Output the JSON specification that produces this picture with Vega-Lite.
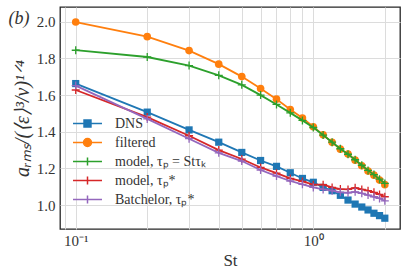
{
  "$schema": "https://vega.github.io/schema/vega-lite/v6.json",
  "width": 340,
  "height": 222,
  "autosize": {"type": "none"},
  "padding": {"left": 60, "top": 7, "right": 7, "bottom": 46},
  "background": "white",
  "config": {
    "font": "Liberation Serif",
    "style": {"guide-label": {"font": "Liberation Serif"}, "guide-title": {"font": "Liberation Serif"}},
    "view": {"stroke": "#262626", "strokeWidth": 1.3},
    "axis": {"labelFont": "Liberation Serif", "titleFont": "Liberation Serif", "labelColor": "#333333", "titleColor": "#333333", "gridColor": "#dcdcdc", "gridWidth": 1, "domain": false, "ticks": false},
    "legend": {"labelFont": "Liberation Serif", "labelFontSize": 14, "labelColor": "#333333"}
  },
  "resolve": {"scale": {"x": "independent"}},
  "data": {"values": [
    {"St": 0.1, "v": 1.663, "series": "DNS"},
    {"St": 0.2, "v": 1.507, "series": "DNS"},
    {"St": 0.3, "v": 1.41, "series": "DNS"},
    {"St": 0.4, "v": 1.343, "series": "DNS"},
    {"St": 0.5, "v": 1.287, "series": "DNS"},
    {"St": 0.6, "v": 1.243, "series": "DNS"},
    {"St": 0.7, "v": 1.211, "series": "DNS"},
    {"St": 0.8, "v": 1.176, "series": "DNS"},
    {"St": 0.9, "v": 1.145, "series": "DNS"},
    {"St": 1.0, "v": 1.124, "series": "DNS"},
    {"St": 1.1, "v": 1.096, "series": "DNS"},
    {"St": 1.2, "v": 1.078, "series": "DNS"},
    {"St": 1.3, "v": 1.053, "series": "DNS"},
    {"St": 1.4, "v": 1.027, "series": "DNS"},
    {"St": 1.5, "v": 1.005, "series": "DNS"},
    {"St": 1.6, "v": 0.989, "series": "DNS"},
    {"St": 1.7, "v": 0.973, "series": "DNS"},
    {"St": 1.8, "v": 0.955, "series": "DNS"},
    {"St": 1.9, "v": 0.942, "series": "DNS"},
    {"St": 2.0, "v": 0.928, "series": "DNS"},
    {"St": 0.1, "v": 1.999, "series": "filtered"},
    {"St": 0.2, "v": 1.919, "series": "filtered"},
    {"St": 0.3, "v": 1.843, "series": "filtered"},
    {"St": 0.4, "v": 1.769, "series": "filtered"},
    {"St": 0.5, "v": 1.701, "series": "filtered"},
    {"St": 0.6, "v": 1.636, "series": "filtered"},
    {"St": 0.7, "v": 1.578, "series": "filtered"},
    {"St": 0.8, "v": 1.521, "series": "filtered"},
    {"St": 0.9, "v": 1.475, "series": "filtered"},
    {"St": 1.0, "v": 1.427, "series": "filtered"},
    {"St": 1.1, "v": 1.383, "series": "filtered"},
    {"St": 1.2, "v": 1.342, "series": "filtered"},
    {"St": 1.3, "v": 1.305, "series": "filtered"},
    {"St": 1.4, "v": 1.278, "series": "filtered"},
    {"St": 1.5, "v": 1.245, "series": "filtered"},
    {"St": 1.6, "v": 1.214, "series": "filtered"},
    {"St": 1.7, "v": 1.185, "series": "filtered"},
    {"St": 1.8, "v": 1.163, "series": "filtered"},
    {"St": 1.9, "v": 1.136, "series": "filtered"},
    {"St": 2.0, "v": 1.111, "series": "filtered"},
    {"St": 0.1, "v": 1.845, "series": "model, τₚ = Stτₖ"},
    {"St": 0.2, "v": 1.808, "series": "model, τₚ = Stτₖ"},
    {"St": 0.3, "v": 1.761, "series": "model, τₚ = Stτₖ"},
    {"St": 0.4, "v": 1.708, "series": "model, τₚ = Stτₖ"},
    {"St": 0.5, "v": 1.656, "series": "model, τₚ = Stτₖ"},
    {"St": 0.6, "v": 1.6, "series": "model, τₚ = Stτₖ"},
    {"St": 0.7, "v": 1.549, "series": "model, τₚ = Stτₖ"},
    {"St": 0.8, "v": 1.503, "series": "model, τₚ = Stτₖ"},
    {"St": 0.9, "v": 1.462, "series": "model, τₚ = Stτₖ"},
    {"St": 1.0, "v": 1.423, "series": "model, τₚ = Stτₖ"},
    {"St": 1.1, "v": 1.382, "series": "model, τₚ = Stτₖ"},
    {"St": 1.2, "v": 1.343, "series": "model, τₚ = Stτₖ"},
    {"St": 1.3, "v": 1.307, "series": "model, τₚ = Stτₖ"},
    {"St": 1.4, "v": 1.277, "series": "model, τₚ = Stτₖ"},
    {"St": 1.5, "v": 1.247, "series": "model, τₚ = Stτₖ"},
    {"St": 1.6, "v": 1.217, "series": "model, τₚ = Stτₖ"},
    {"St": 1.7, "v": 1.189, "series": "model, τₚ = Stτₖ"},
    {"St": 1.8, "v": 1.166, "series": "model, τₚ = Stτₖ"},
    {"St": 1.9, "v": 1.141, "series": "model, τₚ = Stτₖ"},
    {"St": 2.0, "v": 1.118, "series": "model, τₚ = Stτₖ"},
    {"St": 0.1, "v": 1.628, "series": "model, τₚ*"},
    {"St": 0.2, "v": 1.48, "series": "model, τₚ*"},
    {"St": 0.3, "v": 1.378, "series": "model, τₚ*"},
    {"St": 0.4, "v": 1.3, "series": "model, τₚ*"},
    {"St": 0.5, "v": 1.251, "series": "model, τₚ*"},
    {"St": 0.6, "v": 1.205, "series": "model, τₚ*"},
    {"St": 0.7, "v": 1.174, "series": "model, τₚ*"},
    {"St": 0.8, "v": 1.145, "series": "model, τₚ*"},
    {"St": 0.9, "v": 1.129, "series": "model, τₚ*"},
    {"St": 1.0, "v": 1.111, "series": "model, τₚ*"},
    {"St": 1.1, "v": 1.111, "series": "model, τₚ*"},
    {"St": 1.2, "v": 1.096, "series": "model, τₚ*"},
    {"St": 1.3, "v": 1.087, "series": "model, τₚ*"},
    {"St": 1.4, "v": 1.085, "series": "model, τₚ*"},
    {"St": 1.5, "v": 1.094, "series": "model, τₚ*"},
    {"St": 1.6, "v": 1.085, "series": "model, τₚ*"},
    {"St": 1.7, "v": 1.078, "series": "model, τₚ*"},
    {"St": 1.8, "v": 1.069, "series": "model, τₚ*"},
    {"St": 1.9, "v": 1.058, "series": "model, τₚ*"},
    {"St": 2.0, "v": 1.045, "series": "model, τₚ*"},
    {"St": 0.1, "v": 1.652, "series": "Batchelor, τₚ*"},
    {"St": 0.2, "v": 1.47, "series": "Batchelor, τₚ*"},
    {"St": 0.3, "v": 1.362, "series": "Batchelor, τₚ*"},
    {"St": 0.4, "v": 1.285, "series": "Batchelor, τₚ*"},
    {"St": 0.5, "v": 1.24, "series": "Batchelor, τₚ*"},
    {"St": 0.6, "v": 1.191, "series": "Batchelor, τₚ*"},
    {"St": 0.7, "v": 1.158, "series": "Batchelor, τₚ*"},
    {"St": 0.8, "v": 1.131, "series": "Batchelor, τₚ*"},
    {"St": 0.9, "v": 1.113, "series": "Batchelor, τₚ*"},
    {"St": 1.0, "v": 1.096, "series": "Batchelor, τₚ*"},
    {"St": 1.1, "v": 1.085, "series": "Batchelor, τₚ*"},
    {"St": 1.2, "v": 1.078, "series": "Batchelor, τₚ*"},
    {"St": 1.3, "v": 1.069, "series": "Batchelor, τₚ*"},
    {"St": 1.4, "v": 1.067, "series": "Batchelor, τₚ*"},
    {"St": 1.5, "v": 1.072, "series": "Batchelor, τₚ*"},
    {"St": 1.6, "v": 1.064, "series": "Batchelor, τₚ*"},
    {"St": 1.7, "v": 1.054, "series": "Batchelor, τₚ*"},
    {"St": 1.8, "v": 1.045, "series": "Batchelor, τₚ*"},
    {"St": 1.9, "v": 1.036, "series": "Batchelor, τₚ*"},
    {"St": 2.0, "v": 1.023, "series": "Batchelor, τₚ*"}
  ]},
  "layer": [
    {"layer": [
      {"transform": [{"filter": "datum.series == 'DNS'"}],
       "mark": {"type": "line", "color": "#1f77b4", "strokeWidth": 1.8, "point": {"shape": "square", "filled": true, "size": 52, "opacity": 1, "color": "#1f77b4"}}},
      {"transform": [{"filter": "datum.series == 'filtered'"}],
       "mark": {"type": "line", "color": "#ff7f0e", "strokeWidth": 1.8, "point": {"shape": "circle", "filled": true, "size": 58, "opacity": 1, "color": "#ff7f0e"}}},
      {"transform": [{"filter": "datum.series == 'model, τₚ = Stτₖ'"}],
       "mark": {"type": "line", "color": "#2ca02c", "strokeWidth": 1.8, "point": {"shape": "M-1,0H1M0,-1V1", "filled": false, "size": 64, "strokeWidth": 1.3, "opacity": 1, "color": "#2ca02c"}}},
      {"transform": [{"filter": "datum.series == 'model, τₚ*'"}],
       "mark": {"type": "line", "color": "#d62728", "strokeWidth": 1.8, "point": {"shape": "M-1,0H1M0,-1V1", "filled": false, "size": 64, "strokeWidth": 1.3, "opacity": 1, "color": "#d62728"}}},
      {"transform": [{"filter": "datum.series == 'Batchelor, τₚ*'"}],
       "mark": {"type": "line", "color": "#9467bd", "strokeWidth": 1.8, "point": {"shape": "M-1,0H1M0,-1V1", "filled": false, "size": 64, "strokeWidth": 1.3, "opacity": 1, "color": "#9467bd"}}}
     ],
     "encoding": {
      "x": {"field": "St", "type": "quantitative",
        "scale": {"type": "log", "domain": [0.08587, 2.317], "nice": false, "zero": false},
        "axis": {"title": "St", "titleFont": "Liberation Serif", "labelFont": "Liberation Serif", "labelFontSize": 15, "titleFontSize": 17, "titleFontWeight": "normal", "titlePadding": 4,
          "values": [0.09, 0.1, 0.2, 0.3, 0.4, 0.5, 0.6, 0.7, 0.8, 0.9, 1, 2],
          "labelExpr": "datum.value == 0.1 ? '10⁻¹' : (datum.value == 1 ? '10⁰' : '')",
          "labelPadding": 4, "labelFlush": false}},
      "y": {"field": "v", "type": "quantitative",
        "scale": {"domain": [0.869, 2.081], "nice": false, "zero": false},
        "axis": {"title": "aᵣₘₛ/(⟨ε⟩³/ν)¹ᐟ⁴", "titleFont": "Liberation Serif", "labelFont": "Liberation Serif", "labelFontSize": 15, "titleFontSize": 20, "titleFontWeight": "normal", "titleFontStyle": "italic", "titlePadding": 4,
          "values": [1.0, 1.2, 1.4, 1.6, 1.8, 2.0], "format": ".1f", "labelPadding": 5}}
     }},
    {"transform": [{"filter": "false"}],
     "mark": {"type": "point", "filled": true, "strokeWidth": 1.8, "opacity": 1},
     "encoding": {
       "x": {"field": "St", "type": "quantitative", "scale": {"type": "linear", "domain": [0, 1], "nice": false, "zero": false},
         "axis": {"orient": "top", "title": "(b)", "labels": false, "grid": false, "ticks": false, "domain": false,
           "titleFont": "Liberation Serif", "titleFontSize": 18, "titleFontWeight": "normal", "titleFontStyle": "italic",
           "titleX": -52, "titleY": 16, "titleAlign": "left", "titleBaseline": "alphabetic", "titleAnchor": "start"}},
       "y": {"field": "v", "type": "quantitative"},
       "color": {"field": "series", "type": "nominal",
         "scale": {"domain": ["DNS", "filtered", "model, τₚ = Stτₖ", "model, τₚ*", "Batchelor, τₚ*"],
           "range": ["#1f77b4", "#ff7f0e", "#2ca02c", "#d62728", "#9467bd"]},
         "legend": {"title": null, "orient": "none", "legendX": 16, "legendY": 105, "padding": 0, "symbolSize": 441, "labelOffset": 16, "rowPadding": 0}},
       "stroke": {"field": "series", "type": "nominal",
         "scale": {"domain": ["DNS", "filtered", "model, τₚ = Stτₖ", "model, τₚ*", "Batchelor, τₚ*"],
           "range": ["#1f77b4", "#ff7f0e", "#2ca02c", "#d62728", "#9467bd"]},
         "legend": {"title": null, "orient": "none", "legendX": 16, "legendY": 105, "padding": 0, "symbolSize": 441, "labelOffset": 16, "rowPadding": 0}},
       "shape": {"field": "series", "type": "nominal",
         "scale": {"domain": ["DNS", "filtered", "model, τₚ = Stτₖ", "model, τₚ*", "Batchelor, τₚ*"],
           "range": ["M-1.38,0H1.38M-0.33,-0.33H0.33V0.33H-0.33Z", "M-1.38,0H1.38M0.38,0A0.38,0.38,0,1,1,-0.38,0A0.38,0.38,0,1,1,0.38,0Z", "M-1.38,0H1.38M0,-0.38V0.38", "M-1.38,0H1.38M0,-0.38V0.38", "M-1.38,0H1.38M0,-0.38V0.38"]},
         "legend": {"title": null, "orient": "none", "legendX": 16, "legendY": 105, "padding": 0, "symbolSize": 441, "labelOffset": 16, "rowPadding": 0}}
     }}
  ]
}
